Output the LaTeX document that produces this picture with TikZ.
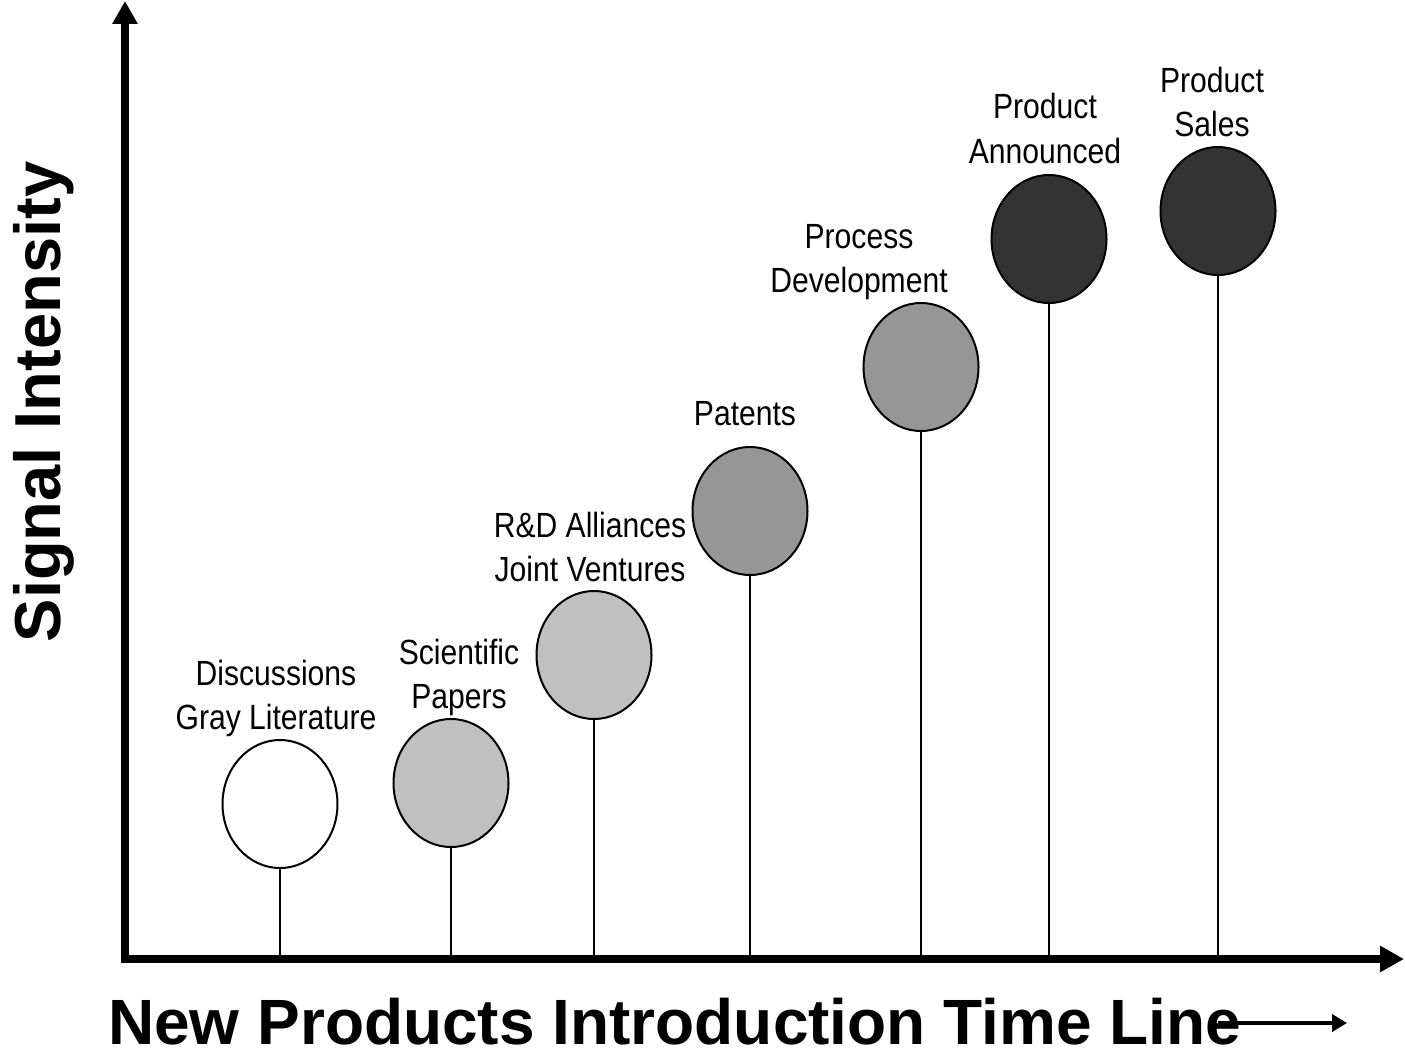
\documentclass[tikz,border=0pt]{standalone}
\usepackage{fontspec}
\setmainfont{Liberation Sans}
\newfontfamily\labelfont[FakeStretch=0.86]{Liberation Sans}
\usetikzlibrary{shapes.geometric,arrows.meta}

\definecolor{lightfill}{HTML}{C0C0C0}
\definecolor{midfill}{HTML}{969696}
\definecolor{darkfill}{HTML}{333333}

\tikzset{
  axisline/.style={line width=7.5pt},
  balloon/.style={ellipse, draw=black, line width=2pt, inner sep=0pt,
                  minimum width=115pt, minimum height=128pt},
  stem/.style={line width=2pt},
  stagelabel/.style={font=\labelfont\fontsize{35}{44}\selectfont,
                     align=center, inner sep=0pt, anchor=base},
  axislabel/.style={font=\bfseries\fontsize{64}{70}\selectfont, inner sep=0pt},
}

\begin{document}
\begin{tikzpicture}[x=1pt, y=-1pt]
  \useasboundingbox[fill=white] (0,0) rectangle (1405,1054);

  % axes
  \coordinate (origin) at (125,963);
  \coordinate (ytop) at (125,1);
  \coordinate (xstart) at (121.5,959);
  \coordinate (xend) at (1404,959);
  \draw[axisline, -{Triangle[length=23pt,width=24pt]}] (origin) -- (ytop);
  \draw[axisline, -{Triangle[length=24pt,width=25pt]}] (xstart) -- (xend);

  % axis titles
  \node[axislabel, font=\bfseries\fontsize{65}{70}\selectfont, rotate=90, anchor=base] (ylab) at (60,402) {Signal Intensity};
  \node[axislabel, anchor=base west, text depth=0pt] (xlab) at (108,1044) {New Products Introduction Time Line};
  \coordinate (tailstart) at (1218,1023);
  \coordinate (tailend) at (1347,1023);
  \draw[line width=4pt, -{Triangle[length=15pt,width=17pt]}] (tailstart) -- (tailend);

  % stages along the time line
  \node[balloon, fill=white]     (e1) at (280,804)  {};
  \node[balloon, fill=lightfill] (e2) at (451,783)  {};
  \node[balloon, fill=lightfill] (e3) at (594,655)  {};
  \node[balloon, fill=midfill]   (e4) at (750,511)  {};
  \node[balloon, fill=midfill]   (e5) at (921,367)  {};
  \node[balloon, fill=darkfill]  (e6) at (1049,239) {};
  \node[balloon, fill=darkfill]  (e7) at (1218,211) {};

  \foreach \e in {e1,e2,e3,e4,e5,e6,e7}
    \draw[stem] (\e.south) -- (\e.south |- xstart);

  % stage labels (anchored on the baseline of their last line)
  \node[stagelabel] (l1) at (276,729)  {Discussions\\Gray Literature};
  \node[stagelabel] (l2) at (459,708)  {Scientific\\Papers};
  \node[stagelabel] (l3) at (590,581)  {R\&D Alliances\\Joint Ventures};
  \node[stagelabel] (l4) at (745,425)  {Patents};
  \node[stagelabel] (l5) at (859,292)  {Process\\Development};
  \node[stagelabel] (l6) at (1045,163) {Product\\Announced};
  \node[stagelabel] (l7) at (1212,137) {Product\\Sales};
\end{tikzpicture}
\end{document}
